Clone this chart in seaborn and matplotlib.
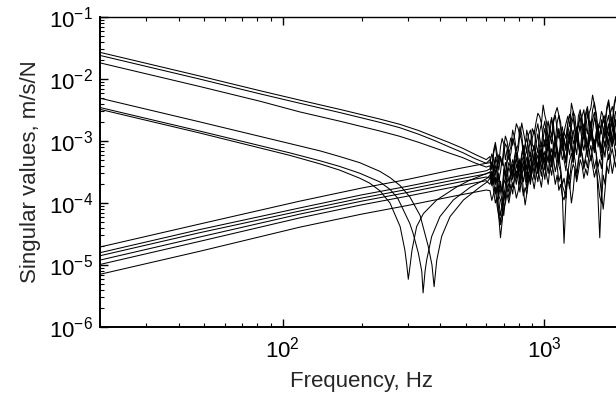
import numpy as np
import pandas as pd
import matplotlib
matplotlib.use("Agg")
import matplotlib.pyplot as plt
import seaborn as sns
from matplotlib.ticker import LogLocator, LogFormatterSciNotation, NullFormatter

# ---------------- data ----------------
# frequency grids of the broadband (noisy) part, Hz
freq_noise = [620, 640, 660, 680, 700, 720, 745, 770, 795, 820, 845, 870, 900, 930,
              960, 990, 1020, 1050, 1085, 1120, 1155, 1190, 1230, 1270, 1310, 1350,
              1395, 1440, 1485, 1530, 1580, 1630, 1680, 1735, 1790, 1850, 1900]
freq_noise_mid = [630, 650, 670, 690, 710, 732, 757, 782, 807, 832, 857, 885, 915, 945,
                  975, 1005, 1035, 1067, 1102, 1137, 1172, 1210, 1250, 1290, 1330, 1372,
                  1417, 1462, 1507, 1555, 1605, 1655, 1707, 1762, 1820, 1875]

# upper descending curves (low-frequency part), Hz / m/s/N
freq_d = [20, 48, 82, 116, 165, 235, 280, 330, 380, 430, 489, 540, 600]
d1_smooth = [2.69e-2, 1.12e-2, 6.46e-3, 4.57e-3, 3.24e-3, 2.26e-3, 1.86e-3, 1.48e-3, 1.17e-3, 9.55e-4, 7.59e-4, 6.17e-4, 5.01e-4]
d2_smooth = [2.40e-2, 1.00e-2, 5.75e-3, 4.07e-3, 2.88e-3, 2.00e-3, 1.64e-3, 1.29e-3, 1.02e-3, 8.13e-4, 6.46e-4, 5.25e-4, 4.37e-4]
d3_smooth = [1.82e-2, 7.59e-3, 4.37e-3, 2.95e-3, 2.09e-3, 1.45e-3, 1.19e-3, 9.55e-4, 7.76e-4, 6.46e-4, 5.37e-4, 4.47e-4, 3.80e-4]

# lower descending curves with anti-resonance notches
freq_l1 = [20, 48, 106, 139, 165, 197, 235, 257, 281, 306, 335, 360, 372, 379, 388, 405, 436, 491, 569, 605]
l1_smooth = [4.90e-3, 2.04e-3, 9.12e-4, 6.92e-4, 5.62e-4, 4.47e-4, 3.24e-4, 2.57e-4, 1.91e-4, 1.26e-4,
             6.31e-5, 2.00e-5, 1.00e-5, 4.47e-6, 1.20e-5, 2.88e-5, 6.03e-5, 1.12e-4, 1.82e-4, 2.19e-4]
freq_l2 = [20, 48, 106, 139, 165, 197, 235, 257, 275, 289, 306, 315, 330, 340, 344, 350, 355, 371, 399, 449, 520, 605]
l2_smooth = [3.47e-3, 1.45e-3, 6.46e-4, 4.79e-4, 3.89e-4, 3.02e-4, 2.19e-4, 1.66e-4, 1.20e-4, 7.76e-5, 4.68e-5,
             3.24e-5, 1.55e-5, 7.94e-6, 3.55e-6, 7.94e-6, 1.20e-5, 2.88e-5, 6.03e-5, 1.12e-4, 1.78e-4, 2.51e-4]
freq_l3 = [20, 48, 106, 139, 165, 197, 215, 235, 257, 281, 293, 298, 302, 307, 312, 325, 345, 388, 463, 520, 605]
l3_smooth = [3.24e-3, 1.35e-3, 5.89e-4, 4.27e-4, 3.39e-4, 2.51e-4, 2.09e-4, 1.58e-4, 1.00e-4, 4.17e-5, 1.74e-5,
             1.00e-5, 5.89e-6, 1.00e-5, 1.74e-5, 4.17e-5, 6.76e-5, 1.12e-4, 1.82e-4, 2.34e-4, 3.02e-4]

# rising curves (low-frequency part)
freq_r = [20, 48, 116, 200, 300, 464, 600]
r1_smooth = [1.95e-5, 4.57e-5, 1.07e-4, 1.74e-4, 2.40e-4, 3.55e-4, 4.37e-4]
r2_smooth = [1.58e-5, 3.72e-5, 8.32e-5, 1.35e-4, 1.86e-4, 2.69e-4, 3.31e-4]
r3_smooth = [1.41e-5, 3.31e-5, 7.41e-5, 1.20e-4, 1.66e-4, 2.40e-4, 2.95e-4]
r4_smooth = [1.20e-5, 2.82e-5, 6.61e-5, 1.07e-4, 1.48e-4, 2.14e-4, 2.63e-4]
r5_smooth = [1.02e-5, 2.40e-5, 5.75e-5, 9.33e-5, 1.29e-4, 1.86e-4, 2.29e-4]
r6_smooth = [7.08e-6, 1.66e-5, 4.07e-5, 6.61e-5, 9.12e-5, 1.32e-4, 1.62e-4]

# broadband part of each curve on freq_noise ...
d1_noise = [5.62e-4, 7.08e-4, 6.31e-4, 7.94e-4, 8.91e-4, 7.08e-4, 1.12e-3, 1.26e-3, 1.58e-3, 1.95e-3, 1.0e-3, 1.26e-3,
            8.91e-4, 1.41e-3, 1.12e-3, 1.58e-3, 1.26e-3, 1.78e-3, 1.41e-3, 2.0e-3, 1.58e-3, 1.12e-3, 1.78e-3, 2.24e-3,
            1.58e-3, 2.0e-3, 2.51e-3, 1.78e-3, 2.82e-3, 5.5e-3, 2.82e-3, 2.0e-3, 2.51e-3, 3.16e-3, 2.24e-3, 3.55e-3, 3.98e-3]
d2_noise = [4.47e-4, 5.01e-4, 3.98e-4, 5.01e-4, 6.31e-4, 7.94e-4, 6.31e-4, 8.91e-4, 7.08e-4, 1.0e-3, 7.94e-4, 1.12e-3,
            1.58e-3, 2.0e-3, 2.51e-3, 3.8e-3, 2.0e-3, 1.41e-3, 1.78e-3, 1.26e-3, 1.0e-3, 1.41e-3, 2.0e-3, 1.58e-3,
            1.12e-3, 1.78e-3, 1.41e-3, 2.51e-3, 1.78e-3, 2.24e-3, 1.58e-3, 1.26e-3, 2.0e-3, 1.58e-3, 2.82e-3, 2.51e-3, 3.16e-3]
d3_noise = [3.98e-4, 3.55e-4, 4.47e-4, 3.16e-4, 3.98e-4, 5.01e-4, 4.47e-4, 5.62e-4, 5.01e-4, 6.31e-4, 5.01e-4, 7.08e-4,
            6.31e-4, 8.91e-4, 7.94e-4, 1.12e-3, 1.0e-3, 1.58e-3, 2.24e-3, 3.47e-3, 2.0e-3, 1.41e-3, 2.51e-3, 4.07e-3,
            2.51e-3, 1.78e-3, 2.24e-3, 1.58e-3, 2.0e-3, 1.41e-3, 1.78e-3, 1.12e-3, 1.58e-3, 2.0e-3, 1.41e-3, 2.0e-3, 2.51e-3]
l1_noise = [2.51e-4, 2.0e-4, 1.26e-4, 2.75e-5, 1.26e-4, 2.51e-4, 3.16e-4, 2.82e-4, 3.98e-4, 3.16e-4, 3.55e-4, 4.47e-4,
            3.98e-4, 5.01e-4, 4.47e-4, 6.31e-4, 5.62e-4, 7.94e-4, 6.31e-4, 7.08e-4, 8.91e-4, 6.31e-4, 7.94e-4, 1.0e-3,
            7.94e-4, 1.12e-3, 8.91e-4, 1.26e-3, 1.0e-3, 1.12e-3, 1.41e-3, 1.0e-3, 1.26e-3, 1.12e-3, 1.58e-3, 1.41e-3, 1.78e-3]
l2_noise = [2.82e-4, 2.51e-4, 2.0e-4, 1.12e-4, 2.51e-4, 3.16e-4, 3.55e-4, 3.98e-4, 3.55e-4, 4.47e-4, 3.16e-4, 5.01e-4,
            4.47e-4, 5.62e-4, 5.01e-4, 6.31e-4, 7.08e-4, 6.31e-4, 7.94e-4, 5.62e-4, 3.16e-4, 2.24e-5, 3.16e-4, 6.31e-4,
            7.94e-4, 8.91e-4, 1.0e-3, 7.94e-4, 1.12e-3, 8.91e-4, 1.26e-3, 1.0e-3, 1.12e-3, 1.41e-3, 1.12e-3, 1.58e-3, 1.41e-3]
l3_noise = [3.16e-4, 3.98e-4, 2.82e-4, 2.0e-4, 3.55e-4, 4.47e-4, 3.55e-4, 5.01e-4, 4.47e-4, 5.62e-4, 3.98e-4, 5.01e-4,
            6.31e-4, 5.01e-4, 7.08e-4, 6.31e-4, 8.91e-4, 7.08e-4, 8.91e-4, 7.94e-4, 1.0e-3, 7.08e-4, 8.91e-4, 1.12e-3,
            8.91e-4, 1.26e-3, 1.0e-3, 1.12e-3, 1.41e-3, 1.12e-3, 6.31e-4, 2.75e-5, 7.94e-4, 1.26e-3, 1.41e-3, 1.12e-3, 1.58e-3]
r1_noise = [5.01e-4, 6.31e-4, 5.01e-4, 5.62e-4, 7.94e-4, 1.0e-3, 7.94e-4, 1.12e-3, 8.91e-4, 1.26e-3, 8.91e-4, 7.94e-4,
            1.12e-3, 8.91e-4, 1.41e-3, 1.12e-3, 1.58e-3, 1.26e-3, 2.0e-3, 1.58e-3, 1.26e-3, 1.0e-3, 1.41e-3, 1.78e-3,
            1.41e-3, 2.51e-3, 2.0e-3, 2.82e-3, 2.24e-3, 3.16e-3, 2.24e-3, 1.78e-3, 2.51e-3, 3.55e-3, 2.82e-3, 3.98e-3, 4.47e-3]
r2_noise = [3.55e-4, 3.16e-4, 2.51e-4, 1.58e-4, 6.31e-5, 2.0e-4, 3.16e-4, 3.98e-4, 3.16e-4, 4.47e-4, 5.62e-4, 4.47e-4,
            6.31e-4, 5.62e-4, 7.08e-4, 7.94e-4, 6.31e-4, 1.0e-3, 7.94e-4, 1.12e-3, 7.94e-4, 6.31e-4, 1.0e-3, 8.91e-4,
            1.26e-3, 1.0e-3, 1.41e-3, 1.12e-3, 1.58e-3, 1.26e-3, 1.12e-3, 8.91e-4, 1.41e-3, 1.26e-3, 1.78e-3, 1.58e-3, 2.0e-3]
r3_noise = [3.16e-4, 2.82e-4, 3.16e-4, 2.24e-4, 2.82e-4, 3.55e-4, 3.16e-4, 3.98e-4, 3.55e-4, 3.16e-4, 9.3e-5, 2.82e-4,
            3.98e-4, 4.47e-4, 5.62e-4, 5.01e-4, 6.31e-4, 5.62e-4, 7.08e-4, 6.31e-4, 7.08e-4, 5.01e-4, 7.08e-4, 7.94e-4,
            7.08e-4, 8.91e-4, 7.94e-4, 1.0e-3, 8.91e-4, 1.12e-3, 1.0e-3, 7.94e-4, 1.0e-3, 1.12e-3, 1.0e-3, 1.26e-3, 1.41e-3]
r4_noise = [2.51e-4, 2.24e-4, 1.78e-4, 6.31e-5, 1.58e-4, 2.51e-4, 2.82e-4, 2.51e-4, 3.16e-4, 3.55e-4, 3.16e-4, 3.98e-4,
            3.55e-4, 4.47e-4, 3.98e-4, 5.01e-4, 4.47e-4, 5.62e-4, 5.01e-4, 4.47e-4, 3.55e-4, 2.51e-4, 3.16e-4, 1.0e-4,
            3.55e-4, 5.01e-4, 6.31e-4, 5.62e-4, 7.08e-4, 7.94e-4, 6.31e-4, 5.01e-4, 7.08e-4, 7.94e-4, 7.08e-4, 8.91e-4, 1.0e-3]
r5_noise = [2.0e-4, 1.58e-4, 1.26e-4, 5.01e-5, 1.12e-4, 1.78e-4, 2.0e-4, 2.51e-4, 2.24e-4, 2.82e-4, 2.51e-4, 3.16e-4,
            3.55e-4, 3.16e-4, 3.98e-4, 3.55e-4, 4.47e-4, 3.98e-4, 5.01e-4, 3.98e-4, 2.82e-4, 1.58e-4, 3.55e-4, 4.47e-4,
            5.01e-4, 4.47e-4, 5.62e-4, 5.01e-4, 6.31e-4, 5.62e-4, 5.01e-4, 2.51e-4, 7.94e-5, 3.98e-4, 5.62e-4, 5.01e-4, 6.31e-4]
r6_noise = [1.58e-4, 1.41e-4, 8.91e-5, 4.47e-5, 7.94e-5, 1.41e-4, 1.58e-4, 1.78e-4, 1.58e-4, 2.0e-4, 1.78e-4, 2.24e-4,
            2.51e-4, 2.82e-4, 2.51e-4, 3.16e-4, 2.82e-4, 3.55e-4, 3.16e-4, 2.82e-4, 2.0e-4, 1.12e-4, 2.51e-4, 3.16e-4,
            3.55e-4, 3.16e-4, 3.98e-4, 3.55e-4, 4.47e-4, 3.98e-4, 3.55e-4, 1.26e-4, 2.82e-4, 4.47e-4, 5.01e-4, 4.47e-4, 5.01e-4]

# ... and on freq_noise_mid
d1_mid = [3.5e-4, 9.5e-4, 4.2e-4, 1.1e-3, 5.0e-4, 8.0e-4, 8.5e-4, 1.9e-3, 1.2e-3, 1.4e-3, 6.5e-4, 1.5e-3,
          7.0e-4, 1.9e-3, 8.0e-4, 2.1e-3, 9.0e-4, 2.4e-3, 1.0e-3, 2.6e-3, 9.0e-4, 7.5e-4, 1.2e-3, 3.0e-3,
          1.1e-3, 1.5e-3, 3.2e-3, 1.3e-3, 3.4e-3, 3.9e-3, 1.6e-3, 3.0e-3, 1.7e-3, 4.2e-3, 1.6e-3, 4.8e-3]
d2_mid = [6.2e-4, 3.0e-4, 6.0e-4, 4.0e-4, 9.0e-4, 5.0e-4, 1.1e-3, 5.5e-4, 1.3e-3, 6.0e-4, 1.5e-3, 9.0e-4,
          1.3e-3, 2.8e-3, 1.9e-3, 2.6e-3, 1.0e-3, 2.2e-3, 9.0e-4, 1.6e-3, 7.0e-4, 1.1e-3, 2.7e-3, 9.0e-4,
          1.5e-3, 2.4e-3, 1.1e-3, 3.2e-3, 1.3e-3, 2.9e-3, 1.1e-3, 1.8e-3, 2.6e-3, 1.2e-3, 3.6e-3, 1.8e-3]
d3_mid = [2.6e-4, 5.5e-4, 2.2e-4, 5.2e-4, 2.8e-4, 7.0e-4, 3.0e-4, 8.0e-4, 3.5e-4, 8.5e-4, 3.4e-4, 1.0e-3,
          4.5e-4, 1.3e-3, 5.5e-4, 1.6e-3, 7.0e-4, 1.2e-3, 2.8e-3, 2.6e-3, 9.0e-4, 1.9e-3, 1.7e-3, 3.0e-3,
          1.2e-3, 2.9e-3, 1.1e-3, 2.7e-3, 1.0e-3, 2.4e-3, 8.0e-4, 2.2e-3, 1.1e-3, 2.6e-3, 1.0e-3, 3.0e-3]
l1_mid = [3.2e-4, 2.6e-4, 6.0e-5, 5.0e-5, 1.9e-4, 1.8e-4, 4.2e-4, 2.0e-4, 5.2e-4, 2.2e-4, 5.5e-4, 2.6e-4,
          6.5e-4, 3.0e-4, 7.5e-4, 3.6e-4, 9.5e-4, 4.5e-4, 9.5e-4, 4.6e-4, 1.2e-3, 4.5e-4, 1.3e-3, 5.5e-4,
          1.5e-3, 6.5e-4, 1.6e-3, 8.0e-4, 1.5e-3, 8.0e-4, 1.9e-3, 7.5e-4, 1.7e-3, 8.5e-4, 2.1e-3, 1.0e-3]
l2_mid = [1.9e-4, 3.2e-4, 1.3e-4, 8.0e-5, 2.0e-4, 4.5e-4, 2.4e-4, 5.2e-4, 2.5e-4, 5.8e-4, 2.2e-4, 6.5e-4,
          3.0e-4, 7.5e-4, 3.5e-4, 4.6e-4, 9.5e-4, 4.2e-4, 1.0e-3, 4.0e-4, 1.4e-4, 1.1e-4, 4.8e-4, 4.4e-4,
          1.15e-3, 6.0e-4, 1.35e-3, 5.5e-4, 1.5e-3, 6.5e-4, 1.7e-3, 7.0e-4, 8.0e-4, 1.9e-3, 8.0e-4, 2.0e-3]
l3_mid = [2.2e-4, 5.0e-4, 1.3e-4, 1.5e-4, 2.4e-4, 6.0e-4, 2.5e-4, 6.5e-4, 3.0e-4, 7.5e-4, 2.7e-4, 3.4e-4,
          8.5e-4, 3.5e-4, 9.5e-4, 4.5e-4, 1.2e-3, 5.0e-4, 1.2e-3, 5.5e-4, 1.35e-3, 5.0e-4, 6.0e-4, 1.5e-3,
          6.0e-4, 1.7e-3, 7.0e-4, 8.0e-4, 1.9e-3, 8.0e-4, 1.2e-4, 1.5e-4, 5.5e-4, 1.8e-3, 9.0e-4, 2.2e-3]
r1_mid = [3.5e-4, 8.5e-4, 3.4e-4, 4.2e-4, 1.2e-3, 6.5e-4, 1.5e-3, 7.0e-4, 1.7e-3, 6.5e-4, 1.1e-3, 5.5e-4,
          1.5e-3, 6.5e-4, 1.9e-3, 8.0e-4, 2.1e-3, 9.0e-4, 2.6e-3, 1.1e-3, 1.7e-3, 7.0e-4, 1.0e-3, 2.4e-3,
          1.0e-3, 3.2e-3, 1.4e-3, 3.6e-3, 1.6e-3, 4.2e-3, 1.5e-3, 1.3e-3, 1.9e-3, 4.6e-3, 2.0e-3, 5.2e-3]
r2_mid = [4.6e-4, 2.0e-4, 3.0e-4, 1.0e-4, 1.2e-4, 1.5e-4, 2.6e-4, 5.5e-4, 2.3e-4, 3.4e-4, 7.5e-4, 3.0e-4,
          8.5e-4, 3.8e-4, 5.0e-4, 1.05e-3, 4.5e-4, 1.3e-3, 5.5e-4, 1.5e-3, 5.0e-4, 4.4e-4, 1.3e-3, 6.0e-4,
          1.7e-3, 7.0e-4, 1.9e-3, 8.0e-4, 2.1e-3, 8.5e-4, 1.5e-3, 6.5e-4, 1.9e-3, 9.0e-4, 2.4e-3, 1.1e-3]
r3_mid = [2.1e-4, 4.0e-4, 1.6e-4, 1.4e-4, 4.5e-4, 2.2e-4, 5.0e-4, 2.5e-4, 4.8e-4, 1.6e-4, 1.4e-4, 2.0e-4,
          5.5e-4, 3.0e-4, 7.5e-4, 3.4e-4, 8.5e-4, 3.8e-4, 9.5e-4, 4.2e-4, 9.5e-4, 3.3e-4, 1.0e-3, 4.6e-4,
          1.2e-3, 5.5e-4, 1.3e-3, 6.0e-4, 1.4e-3, 7.0e-4, 1.4e-3, 5.0e-4, 1.5e-3, 7.0e-4, 1.6e-3, 8.5e-4]
r4_mid = [3.2e-4, 1.4e-4, 1.1e-4, 9.0e-5, 1.1e-4, 3.8e-4, 1.8e-4, 4.2e-4, 2.0e-4, 4.8e-4, 2.1e-4, 5.3e-4,
          2.4e-4, 6.0e-4, 2.7e-4, 6.8e-4, 3.0e-4, 7.5e-4, 3.2e-4, 6.0e-4, 2.0e-4, 1.6e-4, 2.0e-4, 1.6e-4,
          2.4e-4, 8.0e-4, 4.0e-4, 9.0e-4, 4.8e-4, 1.05e-3, 3.8e-4, 3.6e-4, 1.0e-3, 5.0e-4, 1.15e-3, 6.0e-4]
r5_mid = [2.6e-4, 1.0e-4, 8.0e-5, 7.0e-5, 1.4e-4, 1.2e-4, 1.4e-4, 3.3e-4, 1.5e-4, 3.8e-4, 1.7e-4, 2.2e-4,
          4.6e-4, 2.2e-4, 5.2e-4, 2.4e-4, 5.8e-4, 2.8e-4, 6.5e-4, 2.2e-4, 1.9e-4, 1.2e-4, 2.4e-4, 6.5e-4,
          3.0e-4, 7.5e-4, 3.5e-4, 3.7e-4, 8.5e-4, 3.6e-4, 3.6e-4, 1.4e-4, 1.6e-4, 3.0e-4, 7.5e-4, 3.8e-4]
r6_mid = [1.1e-4, 1.8e-4, 6.0e-5, 5.5e-5, 1.0e-4, 1.0e-4, 2.1e-4, 1.2e-4, 2.4e-4, 1.3e-4, 1.4e-4, 3.0e-4,
          1.7e-4, 3.6e-4, 1.8e-4, 4.2e-4, 2.0e-4, 4.6e-4, 2.0e-4, 1.6e-4, 1.3e-4, 1.6e-4, 1.7e-4, 4.2e-4,
          2.2e-4, 5.0e-4, 2.5e-4, 2.8e-4, 5.8e-4, 2.6e-4, 2.2e-4, 1.0e-4, 2.0e-4, 6.0e-4, 3.0e-4, 6.5e-4]

curves = {
    "d1": (freq_d, d1_smooth, d1_noise, d1_mid),
    "d2": (freq_d, d2_smooth, d2_noise, d2_mid),
    "d3": (freq_d, d3_smooth, d3_noise, d3_mid),
    "l1": (freq_l1, l1_smooth, l1_noise, l1_mid),
    "l2": (freq_l2, l2_smooth, l2_noise, l2_mid),
    "l3": (freq_l3, l3_smooth, l3_noise, l3_mid),
    "r1": (freq_r, r1_smooth, r1_noise, r1_mid),
    "r2": (freq_r, r2_smooth, r2_noise, r2_mid),
    "r3": (freq_r, r3_smooth, r3_noise, r3_mid),
    "r4": (freq_r, r4_smooth, r4_noise, r4_mid),
    "r5": (freq_r, r5_smooth, r5_noise, r5_mid),
    "r6": (freq_r, r6_smooth, r6_noise, r6_mid),
}

x_label = "Frequency, Hz"
y_label = "Singular values, m/s/N"

# ---------------- build long table ----------------
rows = []
for name, (fs, vs, vn, vm) in curves.items():
    pts = list(zip(fs, vs)) + list(zip(freq_noise, vn)) + list(zip(freq_noise_mid, vm))
    pts.sort(key=lambda p: p[0])
    for f, v in pts:
        rows.append({"curve": name, "freq": f, "value": v})
df = pd.DataFrame(rows)

# ---------------- style ----------------
sns.set_theme(style="ticks")
plt.rcParams["font.family"] = ["Liberation Sans", "DejaVu Sans"]
plt.rcParams["mathtext.default"] = "regular"
plt.rcParams["axes.unicode_minus"] = False

fig = plt.figure(figsize=(6.16, 4.01), dpi=100)
ax = fig.add_axes([100 / 616, 74 / 401, 523 / 616, 310 / 401])

sns.lineplot(data=df, x="freq", y="value", units="curve", estimator=None,
             sort=False, color="black", linewidth=0.75, ax=ax, legend=False)

ax.set_xscale("log")
ax.set_yscale("log")
ax.set_xlim(20, 2000)
ax.set_ylim(1e-6, 1e-1)

ax.xaxis.set_major_locator(LogLocator(base=10))
ax.xaxis.set_minor_locator(LogLocator(base=10, subs=np.arange(2, 10)))
ax.xaxis.set_minor_formatter(NullFormatter())
ax.yaxis.set_major_locator(LogLocator(base=10, numticks=10))
ax.yaxis.set_minor_locator(LogLocator(base=10, subs=np.arange(2, 10), numticks=20))
ax.yaxis.set_minor_formatter(NullFormatter())
ax.xaxis.set_major_formatter(LogFormatterSciNotation())
ax.yaxis.set_major_formatter(LogFormatterSciNotation())

for s in ["left", "bottom"]:
    ax.spines[s].set_linewidth(1.4)
    ax.spines[s].set_color("black")
ax.spines["top"].set_linewidth(1.0)
ax.spines["top"].set_color("black")
ax.spines["right"].set_visible(False)

ax.tick_params(which="both", direction="in", top=True, right=False, colors="black",
               labelsize=16)
ax.tick_params(which="major", length=6, width=1.0)
ax.tick_params(axis="y", which="major", pad=5)
ax.tick_params(axis="x", which="major", pad=7)
ax.tick_params(which="minor", length=3, width=0.8)

ax.set_xlabel(x_label, fontsize=16, labelpad=6)
ax.set_ylabel(y_label, fontsize=16, labelpad=6)
ax.grid(False)

fig.savefig("out.png", dpi=100)
